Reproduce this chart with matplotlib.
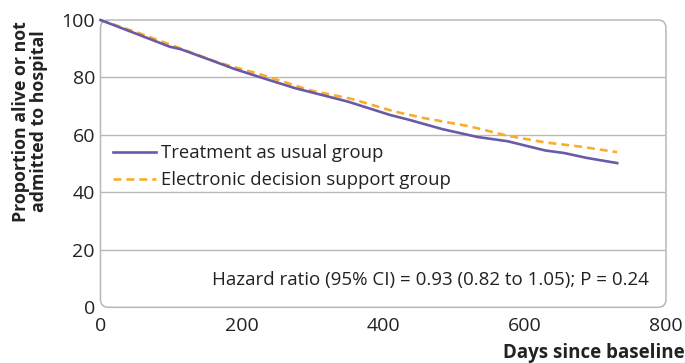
import matplotlib
matplotlib.use("Agg")
from matplotlib import pyplot as plt
from matplotlib.patches import FancyBboxPatch

plt.rcParams['font.family'] = ['Open Sans', 'DejaVu Sans']

# treatment as usual group (days, proportion)
tau_days = [0, 55, 98, 114, 162, 189, 227, 275, 350, 409, 436, 484, 533, 576, 629, 656, 688, 731]
tau_prop = [100, 94.8, 90.7, 89.8, 85.5, 83, 80, 76.3, 71.6, 67, 65.3, 62, 59.3, 57.8, 54.6, 53.7, 52, 50.2]

# electronic decision support group
eds_days = [0, 55, 100, 162, 189, 221, 297, 356, 415, 457, 522, 576, 629, 677, 731]
eds_prop = [100, 95.4, 91.3, 85.6, 83.6, 81.5, 75.5, 72.5, 68.2, 65.9, 63, 59.7, 57.4, 56, 54]

x_ticks = [0, 200, 400, 600, 800]
y_ticks = [0, 20, 40, 60, 80, 100]

grey = '#b8b8b8'
purple = '#6a5aa8'
orange = '#f9ad2a'
ink = '#222222'

fig = plt.figure(figsize=(6.85, 3.63), dpi=100)
ax = fig.add_axes([0.1467, 0.1534, 0.8255, 0.7915])

for s in ax.spines.values():
    s.set_visible(False)

# rounded grey frame (radius ~8 px)
frame = FancyBboxPatch((0, 0), 1, 1, boxstyle='round,pad=0,rounding_size=0.0142',
                       transform=ax.transAxes, fill=False, edgecolor=grey, lw=1.1,
                       clip_on=False, mutation_aspect=1.97, zorder=1)
ax.add_patch(frame)

for v in y_ticks[1:-1]:
    ax.axhline(v, color=grey, lw=1.0, zorder=1)

l1, = ax.plot(tau_days, tau_prop, color=purple, lw=1.9, zorder=3, clip_on=False,
              label='Treatment as usual group')
l2, = ax.plot(eds_days, eds_prop, color=orange, lw=1.9, ls=(0, (3.0, 1.9)), zorder=2,
              clip_on=False, label='Electronic decision support group')

ax.set_xlim(0, 800)
ax.set_ylim(0, 100)
ax.set_xticks(x_ticks)
ax.set_yticks(y_ticks)
ax.set_xticks([200, 400, 600], minor=True)
ax.tick_params(axis='both', which='major', length=0, labelsize=14, colors=ink)
ax.tick_params(axis='x', which='major', pad=7)
ax.tick_params(axis='y', which='major', pad=4)
ax.tick_params(axis='x', which='minor', direction='in', length=5, color=grey, width=1)

leg = ax.legend(handles=[l1, l2], loc='upper left', bbox_to_anchor=(0.0, 0.613),
                frameon=False, fontsize=13.3, handlelength=2.3, handletextpad=0.25,
                labelspacing=0.5, borderaxespad=0.3)
for t in leg.get_texts():
    t.set_color(ink)

ax.text(0.970, 0.095, 'Hazard ratio (95% CI) = 0.93 (0.82 to 1.05); P = 0.24',
        transform=ax.transAxes, ha='right', va='center', fontsize=13.5, color=ink)

fig.text(0.044, 0.665, 'Proportion alive or not\nadmitted to hospital', rotation=90,
         ha='center', va='center', fontsize=12.8, fontweight='bold', linespacing=0.95,
         multialignment='center', color=ink)
fig.text(0.999, 0.0275, 'Days since baseline', ha='right', va='center', fontsize=13.5,
         fontweight='bold', color=ink)

fig.savefig('out.png', dpi=100)
